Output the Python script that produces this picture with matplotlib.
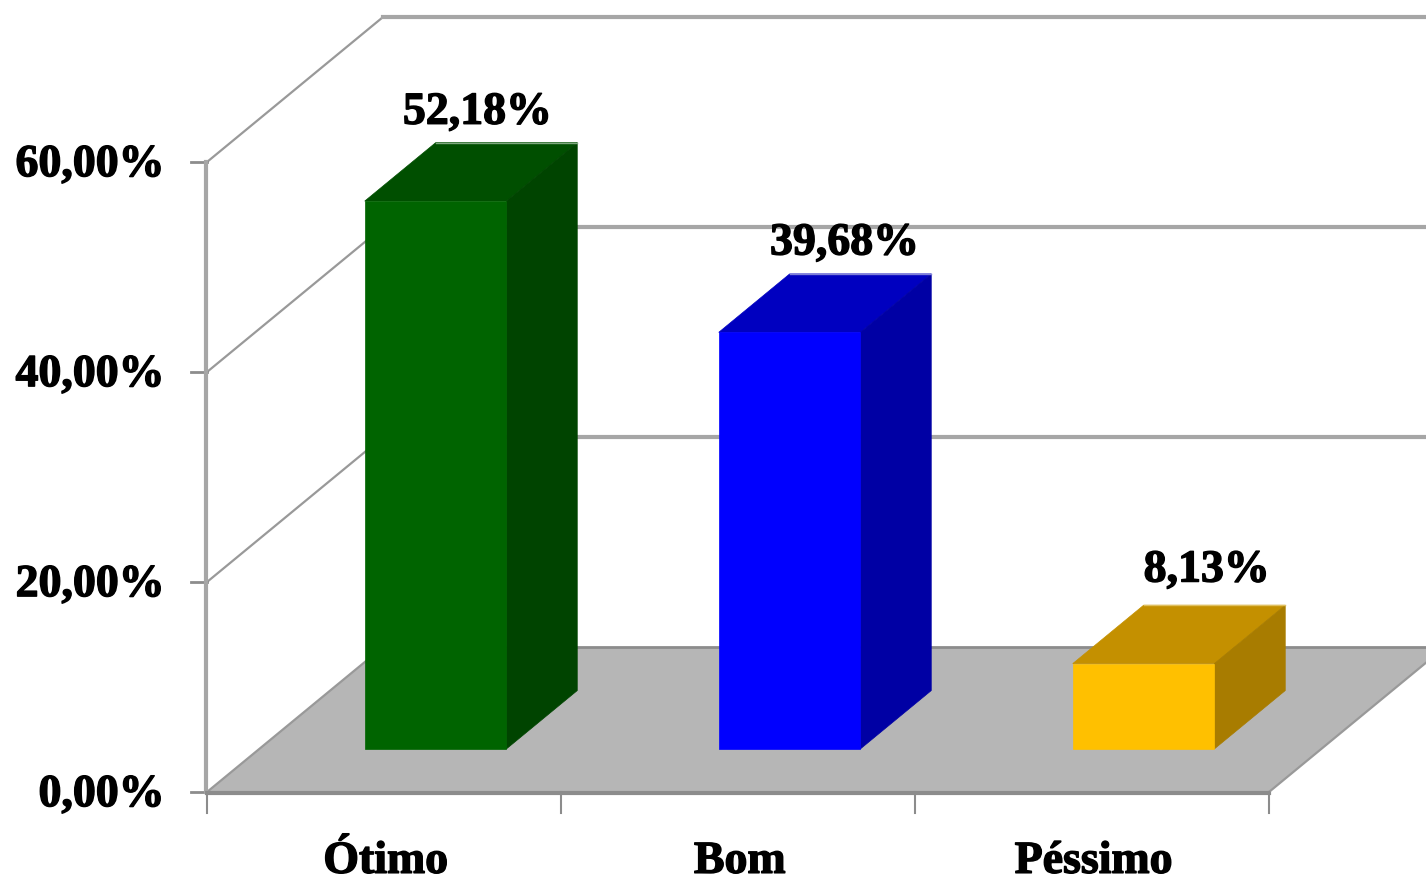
import matplotlib
matplotlib.use("Agg")
import matplotlib.pyplot as plt
import matplotlib.patheffects as pe
from matplotlib.patches import Polygon

categories = ["Ótimo", "Bom", "Péssimo"]
values = [52.18, 39.68, 8.13]
value_labels = ["52,18%", "39,68%", "8,13%"]
y_ticks = [0, 20, 40, 60]
y_tick_labels = ["0,00%", "20,00%", "40,00%", "60,00%"]
front_colors = ["#006400", "#0000ff", "#ffc000"]
top_colors = ["#004f00", "#0000c0", "#c49000"]
side_colors = ["#004400", "#0000a4", "#a87c00"]
edge_colors = ["#7fa87f", "#7f7fd8", "#e0c060"]

# 3D look: depth moves things right and up
DEPTH_X = 0.497
DEPTH_Y = 13.8
BAR_W = 0.4
BAR_LEFT = 0.298
BAR_D0 = 0.297
BAR_D1 = 0.7
WALL = "#a6a6a6"
DARK = "#8c8c8c"
# labels don't sit centred on the bar tops, shift per bar
label_shift = [-0.082, -0.045, -0.022]
label_lift = [2.85, 2.9, 3.3]


def proj(x, y, d=0.0):
    return (x + d * DEPTH_X, y + d * DEPTH_Y)


def label(ax, x, y, s, **kw):
    t = ax.text(x, y, s, fontsize=33, fontweight="bold", color="black", **kw)
    t.set_path_effects([pe.withStroke(linewidth=1.0, foreground="black")])
    return t


def main():
    plt.rcParams["font.family"] = ["Liberation Serif", "DejaVu Serif"]
    fig = plt.figure(figsize=(14.26, 8.8), dpi=100)
    ax = fig.add_axes([0, 0, 1, 1])
    ax.set_xlim(-207 / 354, (1426 - 207) / 354)
    ax.set_ylim(-88 / 10.5, 792 / 10.5)
    ax.axis("off")

    n = len(categories)

    # floor
    ax.add_patch(Polygon([proj(0, 0), proj(n, 0), proj(n, 0, 1), proj(0, 0, 1)],
                         fc="#b6b6b6", ec="none", zorder=1))
    ax.plot(*zip(proj(0, 0, 1), proj(n, 0, 1)), color=DARK, lw=2, zorder=1.5)

    # gridlines on side wall and back wall
    for t, tl in zip(y_ticks, y_tick_labels):
        x0, y0 = proj(0, t)
        x1, y1 = proj(0, t, 1)
        x2, y2 = proj(n, t, 1)
        ax.plot([x0, x1], [y0, y1], color="#999999", lw=1.6, zorder=1.5)
        if t > 0:
            ax.plot([x1, x2], [y1, y2], color=WALL, lw=3, zorder=1.5)
        ax.plot([x0, x0 - 0.045], [y0, y0], color=DARK, lw=2, zorder=1.5)
        label(ax, x0 - 0.12, y0 - 0.3, tl, ha="right", va="center")

    # axis lines
    ax.plot([-0.004, -0.004], [0, y_ticks[-1]], color=WALL, lw=3, zorder=1.5)
    ax.plot([0, n], [-0.1, -0.1], color=DARK, lw=3, zorder=1.5)
    ax.plot([n, n + DEPTH_X], [0, DEPTH_Y], color="#999999", lw=1.6, zorder=1.5)
    for i in range(n + 1):
        ax.plot([i, i], [0, -2.0], color=DARK, lw=1.5, zorder=1.5)

    # bars
    for i, v in enumerate(values):
        l = i + BAR_LEFT
        r = l + BAR_W
        fc = front_colors[i]
        tc = top_colors[i]
        sc = side_colors[i]
        ax.add_patch(Polygon([proj(l, v, BAR_D0), proj(r, v, BAR_D0),
                              proj(r, v, BAR_D1), proj(l, v, BAR_D1)],
                             fc=tc, ec=tc, lw=0.5, zorder=3))
        ax.add_patch(Polygon([proj(r, 0, BAR_D0), proj(r, 0, BAR_D1),
                              proj(r, v, BAR_D1), proj(r, v, BAR_D0)],
                             fc=sc, ec=sc, lw=0.5, zorder=3))
        ax.add_patch(Polygon([proj(l, 0, BAR_D0), proj(r, 0, BAR_D0),
                              proj(r, v, BAR_D0), proj(l, v, BAR_D0)],
                             fc=fc, ec=fc, lw=0.5, zorder=3.1))
        # light rim along the back top edge
        ax.plot(*zip(proj(l, v, BAR_D1), proj(r, v, BAR_D1)),
                color=edge_colors[i], lw=1.0, zorder=3.2)
        tx, ty = proj(l + BAR_W / 2, v, BAR_D1)
        label(ax, tx + label_shift[i], ty + label_lift[i], value_labels[i],
              ha="center", va="center", zorder=4)

    for i, c in enumerate(categories):
        label(ax, i + 0.505, -7.7, c, ha="center", va="baseline")

    fig.savefig("out.png", dpi=100, facecolor="white")


if __name__ == '__main__':
    main()
